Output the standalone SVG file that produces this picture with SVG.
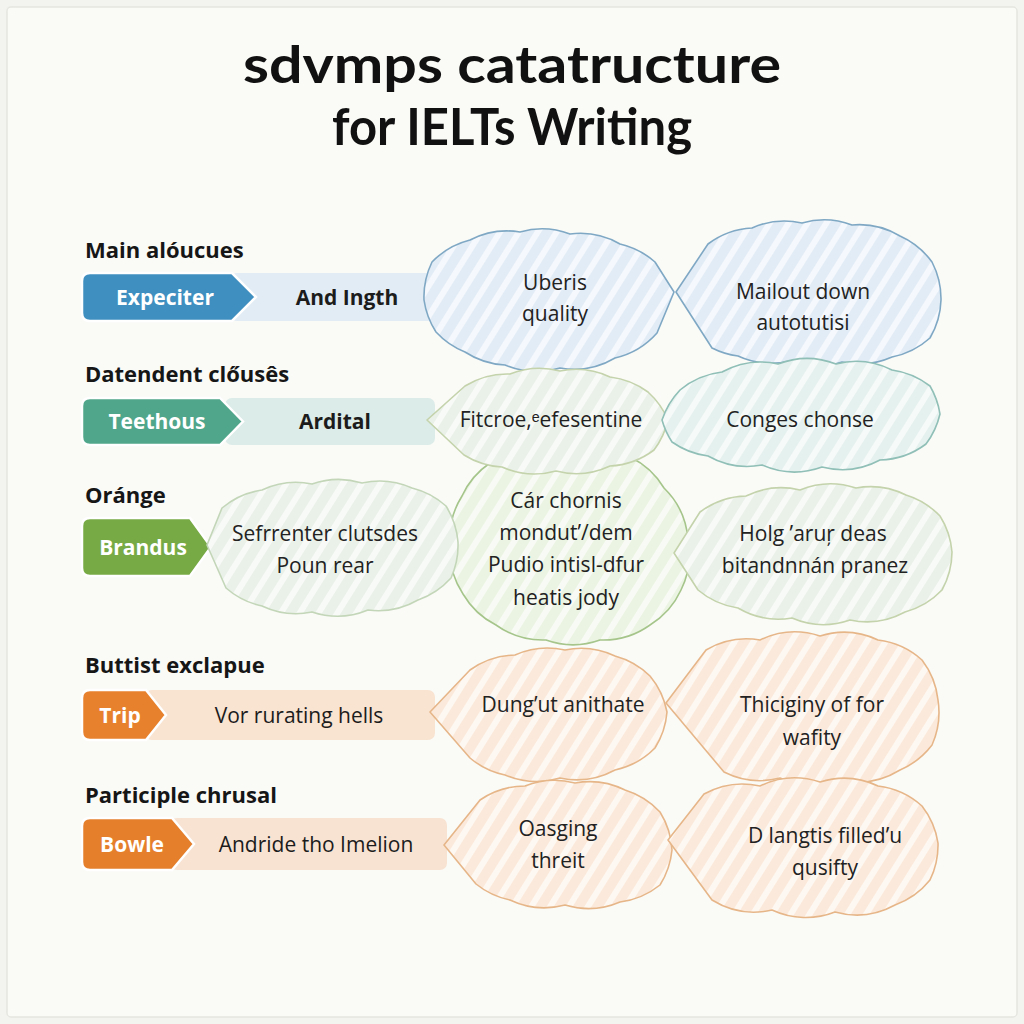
<svg xmlns="http://www.w3.org/2000/svg" width="1024" height="1024" viewBox="0 0 1024 1024">
<defs>
<pattern id="pBlue" width="16" height="16" patternUnits="userSpaceOnUse" patternTransform="rotate(32)"><rect width="16" height="16" fill="#e2ecf6"/><rect width="6" height="16" fill="#ffffff" opacity="0.65"/></pattern>
<pattern id="pGrey" width="16" height="16" patternUnits="userSpaceOnUse" patternTransform="rotate(32)"><rect width="16" height="16" fill="#eaf1e9"/><rect width="6" height="16" fill="#ffffff" opacity="0.65"/></pattern>
<pattern id="pTeal" width="16" height="16" patternUnits="userSpaceOnUse" patternTransform="rotate(32)"><rect width="16" height="16" fill="#e5f1ee"/><rect width="6" height="16" fill="#ffffff" opacity="0.65"/></pattern>
<pattern id="pGreen" width="16" height="16" patternUnits="userSpaceOnUse" patternTransform="rotate(32)"><rect width="16" height="16" fill="#ebf4e2"/><rect width="6" height="16" fill="#ffffff" opacity="0.65"/></pattern>
<pattern id="pOrange" width="16" height="16" patternUnits="userSpaceOnUse" patternTransform="rotate(32)"><rect width="16" height="16" fill="#fbeadb"/><rect width="6" height="16" fill="#ffffff" opacity="0.65"/></pattern>
</defs>
<style>
.title{font-family:"Lato","Liberation Sans",sans-serif;font-weight:700;font-size:52px;fill:#111;text-anchor:middle}
.head{font-family:"Open Sans","Liberation Sans",sans-serif;font-weight:700;font-size:22px;fill:#161616}
.chev{font-family:"Open Sans","Liberation Sans",sans-serif;font-weight:700;font-size:21px;fill:#ffffff;text-anchor:middle}
.barb{font-family:"Open Sans","Liberation Sans",sans-serif;font-weight:700;font-size:21px;fill:#1c1c1c;text-anchor:middle}
.barr{font-family:"Open Sans","Liberation Sans",sans-serif;font-weight:400;font-size:21px;fill:#1c1c1c;text-anchor:middle}
.ct{font-family:"Open Sans","Liberation Sans",sans-serif;font-weight:400;font-size:21px;fill:#222;text-anchor:middle}
.cb{stroke-width:1.6;stroke-linejoin:round}
.blue{fill:url(#pBlue);stroke:#7fa8c4}
.grey{fill:url(#pGrey);stroke:#c4d3ab}
.teal{fill:url(#pTeal);stroke:#8fbfb6}
.green{fill:url(#pGreen);stroke:#a5c58b}
.lgreen{fill:url(#pGrey);stroke:#c3d6b8}
.orange{fill:url(#pOrange);stroke:#e6b689}
</style>
<rect width="1024" height="1024" fill="#f3f3ef"/>
<rect x="7" y="7" width="1010" height="1010" rx="4" fill="#fafaf7" stroke="#e6e6e1" stroke-width="1.5"/>

<g id="title">
<text class="title" x="512" y="83" textLength="538" lengthAdjust="spacingAndGlyphs">sdvmps catatructure</text>
<text class="title" x="512" y="145" textLength="360" lengthAdjust="spacingAndGlyphs">for IELTs Writing</text>
</g>

<!-- Row 1 -->
<g id="row1-heading"><text class="head" x="85" y="258">Main alóucues</text></g>
<g id="row1-bar">
<rect x="230" y="273" width="205" height="48" rx="7" fill="#e1ecf5"/>
<path d="M90 273 H232 L256 297 L232 321 H90 Q82 321 82 313 V281 Q82 273 90 273 Z" fill="#3f8fc0" stroke="#ffffff" stroke-width="2.5"/>
<text class="chev" x="165" y="305">Expeciter</text>
<text class="barb" x="347" y="305">And Ingth</text>
</g>
<g id="cloud1">
<path class="cb blue" d="M424 300 A80 80 0 0 1 432 262 A80 80 0 0 1 470 240 A80 80 0 0 1 520 232 A80 80 0 0 1 570 234 A80 80 0 0 1 620 244 A80 80 0 0 1 655 262 L674 292 L657 333 A80 80 0 0 1 615 358 A80 80 0 0 1 560 368 A80 80 0 0 1 505 365 A80 80 0 0 1 465 352 A80 80 0 0 1 436 332 A80 80 0 0 1 424 300 Z"/>
<text class="ct" x="555" y="290">Uberis</text>
<text class="ct" x="555" y="321">quality</text>
</g>
<g id="cloud2">
<path class="cb blue" d="M676 292 L708 244 A80 80 0 0 1 752 228 A80 80 0 0 1 802 223 A80 80 0 0 1 852 225 A80 80 0 0 1 900 236 A80 80 0 0 1 932 262 A80 80 0 0 1 941 300 A80 80 0 0 1 930 338 A80 80 0 0 1 892 357 A80 80 0 0 1 842 362 A80 80 0 0 1 790 361 A80 80 0 0 1 738 356 A80 80 0 0 1 712 348 L676 292 Z"/>
<text class="ct" x="803" y="299">Mailout down</text>
<text class="ct" x="803" y="330">autotutisi</text>
</g>

<!-- Row 3 big cloud (behind row 2 clouds) -->
<g id="cloud6">
<path class="cb green" d="M450 545 A80 80 0 0 1 462 496 A80 80 0 0 1 490 463 A80 80 0 0 1 532 448 A80 80 0 0 1 582 446 A80 80 0 0 1 630 457 A80 80 0 0 1 664 488 A80 80 0 0 1 688 540 A80 80 0 0 1 681 590 A80 80 0 0 1 650 625 A80 80 0 0 1 600 640 A80 80 0 0 1 546 640 A80 80 0 0 1 496 625 A80 80 0 0 1 463 594 A80 80 0 0 1 450 545 Z"/>
<text class="ct" x="566" y="508">Cár chornis</text>
<text class="ct" x="566" y="540">mondut’/dem</text>
<text class="ct" x="566" y="572">Pudio intisl-dfur</text>
<text class="ct" x="566" y="605">heatis jody</text>
</g>

<!-- Row 2 -->
<g id="row2-heading"><text class="head" x="85" y="382">Datendent clőusês</text></g>
<g id="row2-bar">
<rect x="225" y="398" width="210" height="47" rx="7" fill="#dcece8"/>
<path d="M90 398 H220 L243 421.5 L220 445 H90 Q82 445 82 437 V406 Q82 398 90 398 Z" fill="#4fa68a" stroke="#ffffff" stroke-width="2.5"/>
<text class="chev" x="157" y="429">Teethous</text>
<text class="barb" x="335" y="429">Ardital</text>
</g>
<g id="cloud3">
<path class="cb grey" d="M427 420 L465 386 A80 80 0 0 1 510 374 A80 80 0 0 1 560 371 A80 80 0 0 1 610 377 A80 80 0 0 1 648 392 A80 80 0 0 1 668 420 A80 80 0 0 1 654 450 A80 80 0 0 1 610 466 A80 80 0 0 1 556 471 A80 80 0 0 1 502 467 A80 80 0 0 1 464 455 L427 420 Z"/>
<text class="ct" x="551" y="427">Fitcroe,ᵉefesentine</text>
</g>
<g id="cloud4">
<path class="cb teal" d="M662 420 A80 80 0 0 1 680 390 A80 80 0 0 1 722 372 A80 80 0 0 1 778 364 A80 80 0 0 1 836 364 A80 80 0 0 1 892 370 A80 80 0 0 1 930 386 A80 80 0 0 1 940 414 A80 80 0 0 1 926 444 A80 80 0 0 1 880 460 A80 80 0 0 1 822 467 A80 80 0 0 1 762 465 A80 80 0 0 1 708 456 A80 80 0 0 1 672 442 A80 80 0 0 1 662 420 Z"/>
<text class="ct" x="800" y="427">Conges chonse</text>
</g>

<!-- Row 3 -->
<g id="row3-heading"><text class="head" x="85" y="503">Oránge</text></g>
<g id="row3-bar">
<path d="M90 518 H190 L211 547 L190 576 H90 Q82 576 82 568 V526 Q82 518 90 518 Z" fill="#77aa44" stroke="#ffffff" stroke-width="2.5"/>
<text class="chev" x="143" y="555">Brandus</text>
</g>
<g id="cloud5">
<path class="cb lgreen" d="M207 545 L222 508 A80 80 0 0 1 262 490 A80 80 0 0 1 312 484 A80 80 0 0 1 362 483 A80 80 0 0 1 412 488 A80 80 0 0 1 446 506 A80 80 0 0 1 458 542 A80 80 0 0 1 451 578 A80 80 0 0 1 418 600 A80 80 0 0 1 368 610 A80 80 0 0 1 312 612 A80 80 0 0 1 262 606 A80 80 0 0 1 226 588 L207 545 Z"/>
<text class="ct" x="325" y="541">Sefrrenter clutsdes</text>
<text class="ct" x="325" y="573">Poun rear</text>
</g>
<g id="cloud7">
<path class="cb grey" d="M674 553 L700 512 A80 80 0 0 1 746 496 A80 80 0 0 1 800 490 A80 80 0 0 1 856 488 A80 80 0 0 1 906 495 A80 80 0 0 1 940 516 A80 80 0 0 1 952 552 A80 80 0 0 1 942 590 A80 80 0 0 1 905 612 A80 80 0 0 1 850 620 A80 80 0 0 1 792 618 A80 80 0 0 1 738 608 A80 80 0 0 1 698 590 L674 553 Z"/>
<text class="ct" x="813" y="541">Holg ’aruŗ deas</text>
<text class="ct" x="815" y="573">bitandnnán pranez</text>
</g>

<!-- Row 4 -->
<g id="row4-heading"><text class="head" x="85" y="673">Buttist exclapue</text></g>
<g id="row4-bar">
<rect x="145" y="690" width="290" height="50" rx="7" fill="#f9e3d1"/>
<path d="M90 690 H146 L166 715 L146 740 H90 Q82 740 82 732 V698 Q82 690 90 690 Z" fill="#e8812d" stroke="#ffffff" stroke-width="2.5"/>
<text class="chev" x="120" y="723">Trip</text>
<text class="barr" x="299" y="723">Vor rurating hells</text>
</g>
<g id="cloud8">
<path class="cb orange" d="M430 712 L470 670 A80 80 0 0 1 515 655 A80 80 0 0 1 565 650 A80 80 0 0 1 615 656 A80 80 0 0 1 650 676 A80 80 0 0 1 667 712 A80 80 0 0 1 655 748 A80 80 0 0 1 615 770 A80 80 0 0 1 560 778 A80 80 0 0 1 505 775 A80 80 0 0 1 470 758 L430 712 Z"/>
<text class="ct" x="563" y="712">Dung’ut anithate</text>
</g>
<g id="cloud9">
<path class="cb orange" d="M666 703 L706 650 A80 80 0 0 1 760 640 A80 80 0 0 1 820 636 A80 80 0 0 1 878 640 A80 80 0 0 1 922 660 A80 80 0 0 1 938 700 A80 80 0 0 1 932 745 A80 80 0 0 1 900 770 A80 80 0 0 1 840 780 A80 80 0 0 1 780 778 A80 80 0 0 1 724 772 L666 703 Z"/>
<text class="ct" x="812" y="712">Thiciginy of for</text>
<text class="ct" x="812" y="745">wafity</text>
</g>

<!-- Row 5 -->
<g id="row5-heading"><text class="head" x="85" y="803">Participle chrusal</text></g>
<g id="row5-bar">
<rect x="170" y="818" width="277" height="52" rx="7" fill="#f8e3d2"/>
<path d="M90 818 H172 L194 844 L172 870 H90 Q82 870 82 862 V826 Q82 818 90 818 Z" fill="#e57f2c" stroke="#ffffff" stroke-width="2.5"/>
<text class="chev" x="132" y="852">Bowle</text>
<text class="barr" x="316" y="852">Andride tho Imelion</text>
</g>
<g id="cloud10">
<path class="cb orange" d="M444 845 L480 800 A80 80 0 0 1 525 786 A80 80 0 0 1 575 783 A80 80 0 0 1 625 790 A80 80 0 0 1 660 812 A80 80 0 0 1 672 850 A80 80 0 0 1 660 885 A80 80 0 0 1 620 902 A80 80 0 0 1 565 905 A80 80 0 0 1 510 900 A80 80 0 0 1 476 884 L444 845 Z"/>
<text class="ct" x="558" y="836">Oasging</text>
<text class="ct" x="558" y="868">threit</text>
</g>
<g id="cloud11">
<path class="cb orange" d="M668 840 L704 794 A80 80 0 0 1 760 786 A80 80 0 0 1 820 782 A80 80 0 0 1 878 786 A80 80 0 0 1 922 806 A80 80 0 0 1 938 843 A80 80 0 0 1 930 880 A80 80 0 0 1 895 905 A80 80 0 0 1 835 912 A80 80 0 0 1 772 910 A80 80 0 0 1 712 900 L668 840 Z"/>
<text class="ct" x="825" y="843">D langtis filled’u</text>
<text class="ct" x="825" y="875">qusifty</text>
</g>
</svg>
